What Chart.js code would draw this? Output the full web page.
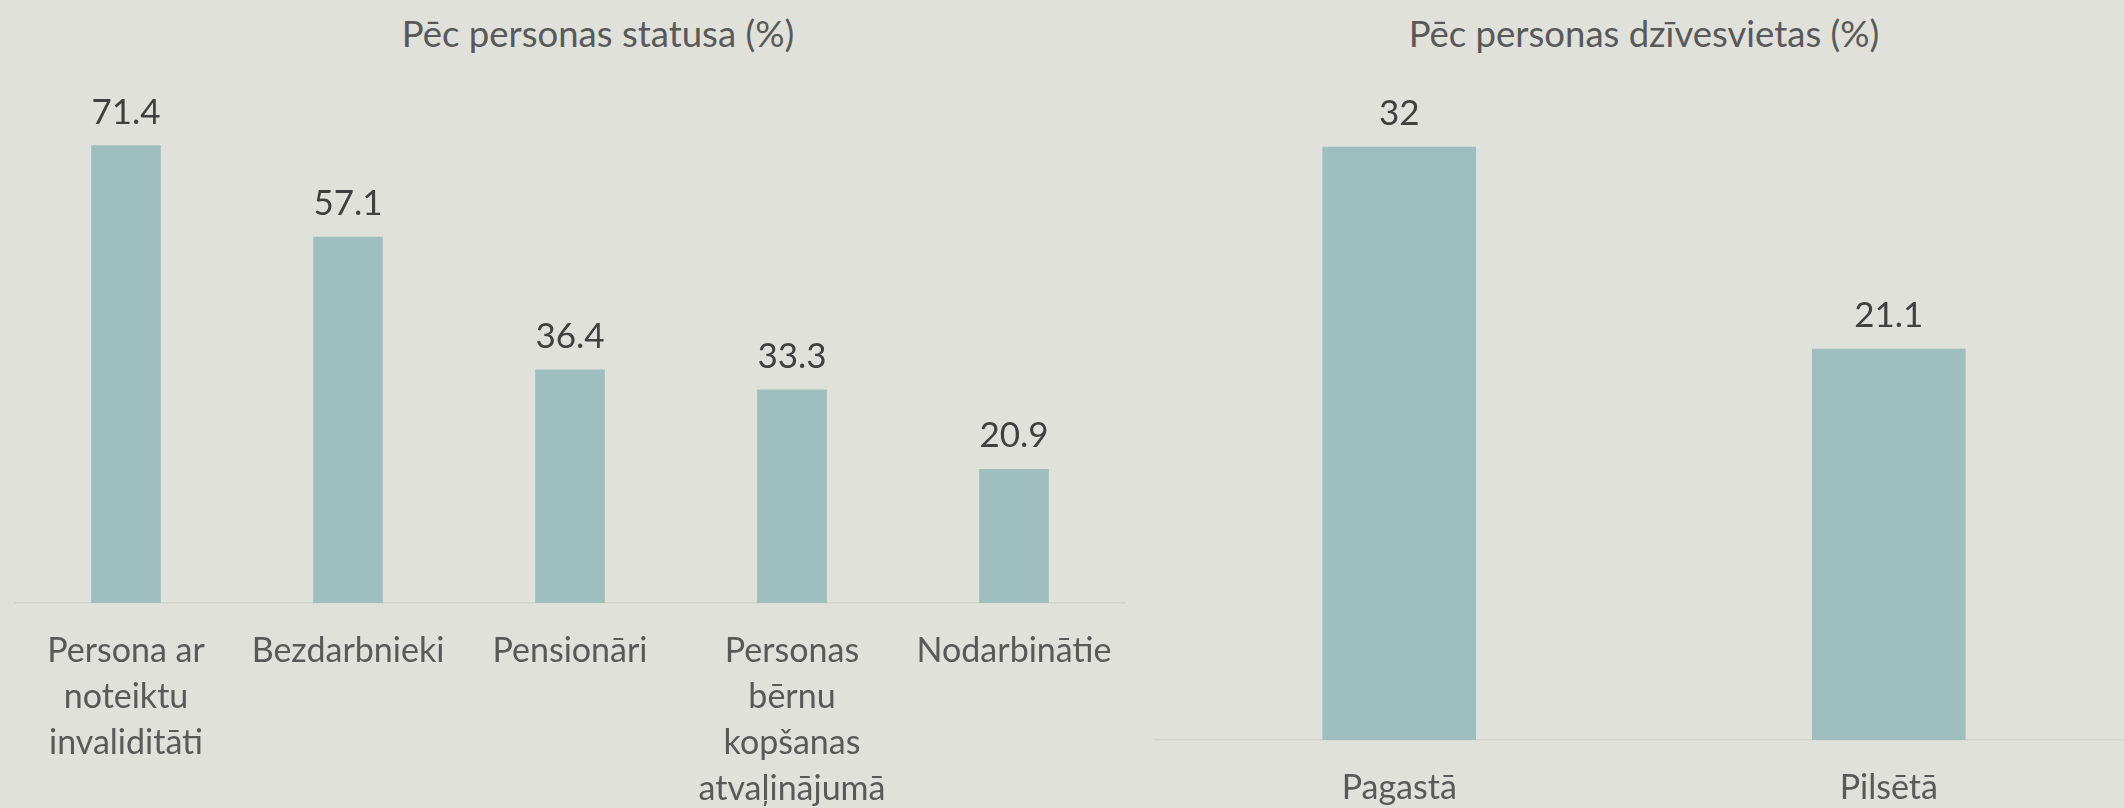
<!DOCTYPE html>
<html>
<head>
<meta charset="utf-8">
<script src="https://cdn.jsdelivr.net/npm/chart.js@4.4.1/dist/chart.umd.min.js"></script>
<style>
  html, body { margin: 0; padding: 0; background: #e0e1db; overflow: hidden; }
  body { width: 2124px; height: 808px; position: relative; font-family: Lato, sans-serif; }
  .title { position: absolute; top: 10px; color: #595959; font-size: 36.5px; white-space: nowrap; transform: translateX(-50%); line-height: 46px; }
  #statusWrap { position: absolute; left: 0; top: 0; width: 1140px; height: 808px; }
  #placeWrap { position: absolute; left: 1140px; top: 0; width: 1000px; height: 808px; }
</style>
</head>
<body>
<div class="title" style="left:598px">Pēc personas statusa (%)</div>
<div class="title" style="left:1644px">Pēc personas dzīvesvietas (%)</div>
<div id="statusWrap"><canvas id="statusChart"></canvas></div>
<div id="placeWrap"><canvas id="placeChart"></canvas></div>
<script>
// data
const statusLabels = [
  ['Persona ar', 'noteiktu', 'invaliditāti'],
  'Bezdarbnieki',
  'Pensionāri',
  ['Personas', 'bērnu', 'kopšanas', 'atvaļinājumā'],
  'Nodarbinātie'
];
const statusValues = [71.4, 57.1, 36.4, 33.3, 20.9];
const placeLabels = ['Pagastā', 'Pilsētā'];
const placeValues = [32, 21.1];

const barColor = '#9fbfbe';
const labelColor = '#595959';

// value labels above each bar
const valueLabels = {
  id: 'valueLabels',
  afterDatasetsDraw(chart) {
    const ctx = chart.ctx;
    const meta = chart.getDatasetMeta(0);
    const values = chart.data.datasets[0].data;
    ctx.save();
    ctx.font = '35px Lato';
    ctx.fillStyle = '#404040';
    ctx.textAlign = 'center';
    ctx.textBaseline = 'alphabetic';
    meta.data.forEach(function (bar, i) {
      ctx.fillText(String(values[i]), bar.x, bar.y - 21.5);
    });
    ctx.restore();
  }
};

function makeChart(canvas, labels, values, yMax, pad, axisHeight) {
  return new Chart(canvas, {
    type: 'bar',
    data: {
      labels: labels,
      datasets: [{
        data: values,
        backgroundColor: barColor,
        borderWidth: 0,
        categoryPercentage: 1,
        barPercentage: 0.314
      }]
    },
    options: {
      responsive: true,
      maintainAspectRatio: false,
      animation: false,
      layout: { padding: pad },
      plugins: {
        legend: { display: false },
        tooltip: { enabled: false }
      },
      scales: {
        x: {
          grid: { display: false, drawTicks: false },
          border: { display: true, color: '#d4d5d0', width: 1.5 },
          ticks: {
            color: labelColor,
            font: { family: 'Lato', size: 34, lineHeight: 1.353 },
            padding: 25,
            autoSkip: false,
            maxRotation: 0
          },
          afterFit: function (scale) { scale.height = axisHeight; }
        },
        y: {
          display: false,
          min: 0,
          max: yMax
        }
      }
    },
    plugins: [valueLabels]
  });
}

const statusCanvas = document.getElementById('statusChart');
if (statusCanvas) {
  makeChart(statusCanvas, statusLabels, statusValues, 80,
    { left: 15, right: 15, top: 90, bottom: 0 }, 205);
}

const placeCanvas = document.getElementById('placeChart');
if (placeCanvas) {
  makeChart(placeCanvas, placeLabels, placeValues, 35,
    { left: 14.5, right: 6.5, top: 91, bottom: 0 }, 68);
}
</script>
</body>
</html>
